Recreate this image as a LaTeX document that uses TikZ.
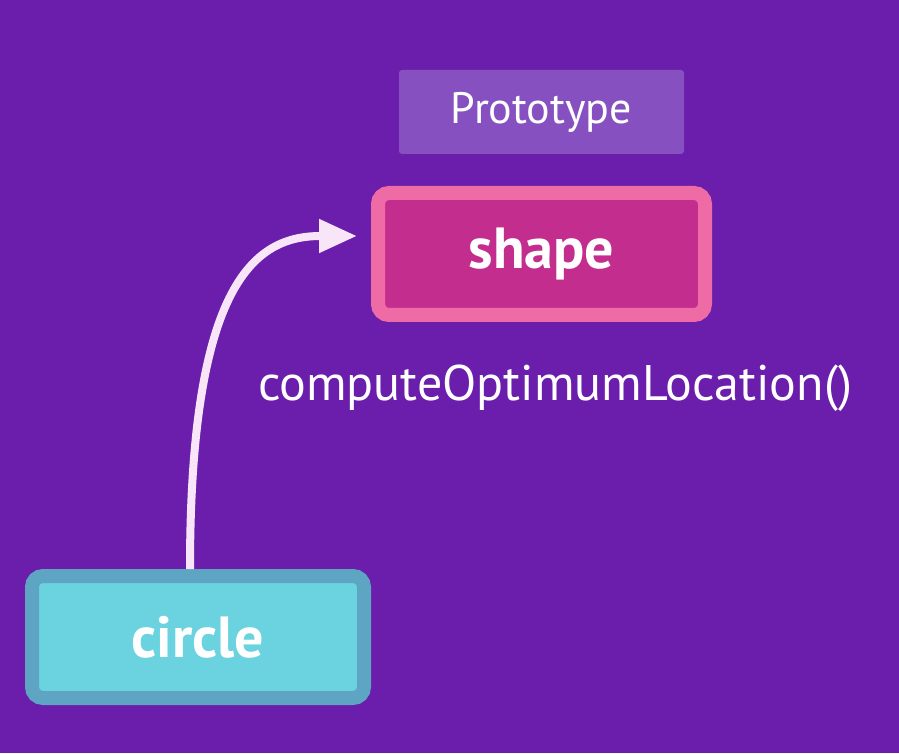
\documentclass[tikz,border=0pt]{standalone}
\usepackage{fontspec}
\setmainfont{PT Sans}
\usetikzlibrary{arrows.meta}

\definecolor{bgpurple}{HTML}{6A1EAB}
\definecolor{protofill}{HTML}{8650C0}
\definecolor{shapefill}{HTML}{C32D8D}
\definecolor{shapeedge}{HTML}{EE6BA6}
\definecolor{circlefill}{HTML}{6AD3DF}
\definecolor{circleedge}{HTML}{5DA5C2}
\definecolor{linkcolor}{HTML}{F8E6F8}

\begin{document}
\begin{tikzpicture}
    [x=1pt,y=1pt,text=white,
      label box/.style={fill=protofill,rounded corners=3pt,minimum width=285pt,minimum height=84pt,
        font=\fontsize{44}{50}\selectfont},
      object box/.style={line width=14pt,rounded corners=11pt,minimum width=327pt,minimum height=122pt,
        font=\bfseries\fontsize{58}{66}\selectfont},
      proto object/.style={object box,fill=shapefill,draw=shapeedge},
      child object/.style={object box,fill=circlefill,draw=circleedge,minimum width=332pt},
      link/.style={draw=linkcolor,line width=8pt,-{Triangle[length=38pt,width=32pt]}}
    ]

    \fill [bgpurple] (0,0) rectangle (899,753);

    \node [label box] (prototype) at (541.5,641) {Prototype};
    \node [proto object] (shape) at (541.5,499) {shape};
    \node [font=\fontsize{50}{58}\selectfont] (method) at (555,365) {computeOptimumLocation()};
    \node [child object] (circle) at (198,116) {circle};

    \draw [link] ([xshift=-8pt]circle.north) .. controls +(0,290) and +(-100,0) .. ([shift={(-14pt,18pt)}]shape.west);
  \end{tikzpicture}
\end{document}
